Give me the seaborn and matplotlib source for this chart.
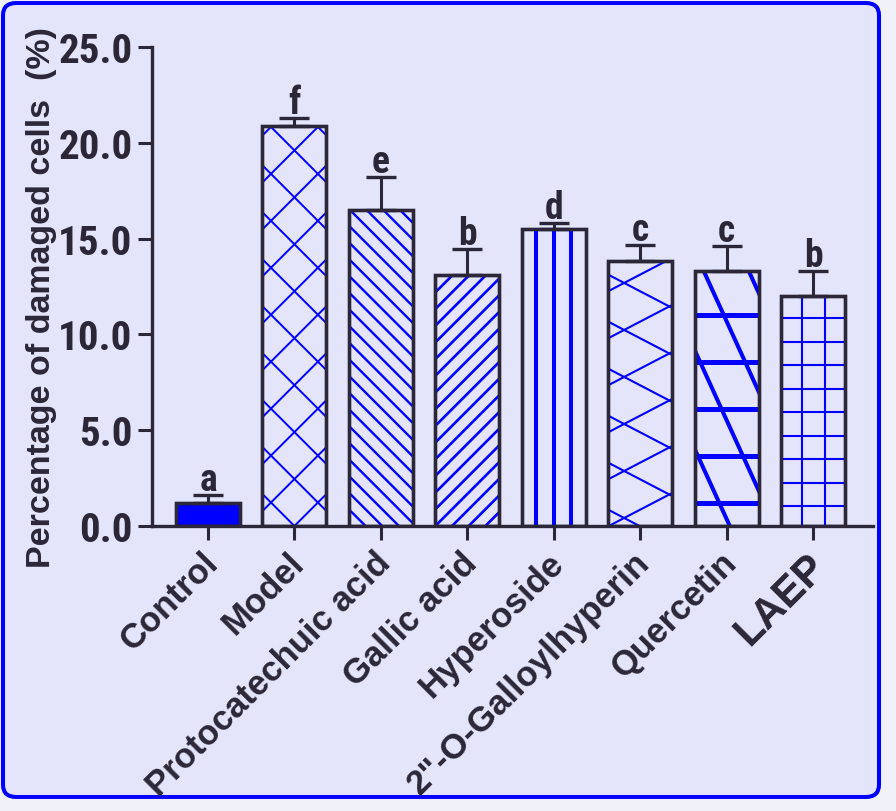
import numpy as np
import pandas as pd
import matplotlib
matplotlib.use("Agg")
import matplotlib.pyplot as plt
import seaborn as sns
from matplotlib import font_manager as fm
from matplotlib.patches import Rectangle, FancyBboxPatch
from matplotlib.transforms import ScaledTranslation

# Data
groups = ["Control", "Model", "Protocatechuic acid", "Gallic acid", "Hyperoside",
          '2"-O-Galloylhyperin', "Quercetin", "LAEP"]
means = [1.2, 20.9, 16.5, 13.1, 15.5, 13.85, 13.3, 12.0]
errors = [0.4, 0.4, 1.7, 1.35, 0.3, 0.8, 1.3, 1.3]
letters = ["a", "f", "e", "b", "d", "c", "c", "b"]
y_ticks = [0, 5, 10, 15, 20, 25]

BLUE = "#0000ff"
DARK = "#2b2738"
BG = "#e4e4fa"
OUTER = "#f1f1f9"

sns.set_theme(style="ticks")
plt.rcParams["font.family"] = ["Liberation Sans", "DejaVu Sans"]


def pick_narrow():
    # look for a bold condensed sans face, like the Arial Narrow of the original
    prefs = ["liberation sans narrow", "roboto condensed", "dejavu sans condensed",
             "noto sans", "open sans", "lato", "inter"]
    best = None
    for f in fm.fontManager.ttflist:
        nm = f.name.lower()
        st = str(f.stretch).lower()
        path = str(f.fname).lower()
        narrowish = ("narrow" in nm or "condensed" in nm or "condensed" in st
                     or "narrow" in path or "condensed" in path)
        if not narrowish or "mono" in nm or "extra" in st or "ultra" in st:
            continue
        if "extracondensed" in path or "ultracondensed" in path:
            continue
        w = f.weight if isinstance(f.weight, int) else fm.weight_dict.get(f.weight, 400)
        if w < 600 or f.style != "normal":
            continue
        rank = next((i for i, p in enumerate(prefs) if nm.startswith(p)), len(prefs))
        key = (rank, abs(w - 700), "semi" in st or "semi" in path)
        if best is None or key < best[0]:
            best = (key, f.fname)
    if best is None:
        return None
    return best[1]


narrow_path = pick_narrow()


def narrow_font(size):
    if narrow_path:
        return fm.FontProperties(fname=narrow_path, size=size)
    return fm.FontProperties(family="Liberation Sans", weight="bold", size=size)


# hatch families per bar: (angle deg, spacing px, lw pt, anchor frac, dx px, dy px)
hatch_specs = {
    "Model": [(45, 33.2, 1.4, 0.5, 0, 0), (-45, 33.2, 1.4, 0.5, 0, 0)],
    "Protocatechuic acid": [(-45, 11.8, 1.7, 0.0, 0, 0)],
    "Gallic acid": [(45, 11.8, 1.9, 0.0, 0, 0)],
    "Hyperoside": [(90, 17.5, 2.9, 0.5, 0, 0)],
    '2"-O-Galloylhyperin': [(27.5, 41.7, 1.5, 0.25, 0, 8), (-27.5, 41.7, 1.5, 0.25, 0, 8)],
    "Quercetin": [(0, 47, 3.6, 0.0, 0, 23), (-65.5, 41, 2.9, 0.55, 0, 0)],
    "LAEP": [(90, 23, 1.5, 0.5, 11.5, 0), (0, 23.5, 1.5, 0.0, 0, 20)],
}

df = pd.DataFrame({"group": groups, "mean": means, "err": errors})

fig = plt.figure(figsize=(8.96, 8.12), dpi=100, facecolor=OUTER)
frame = FancyBboxPatch((3 / 896, 14 / 812), 876 / 896, 794 / 812,
                       boxstyle="round,pad=0,rounding_size=0.015",
                       transform=fig.transFigure, facecolor=BG, edgecolor=BLUE,
                       linewidth=2.9, zorder=-5)
fig.patches.append(frame)

ax = fig.add_axes([152 / 896, 285 / 812, 721 / 896, 479 / 812])
ax.patch.set_visible(False)

fills = [BLUE] + [BG] * (len(groups) - 1)
sns.barplot(data=df, x="group", y="mean", hue="group", palette=fills, width=0.74,
            edgecolor=DARK, linewidth=2.4, errorbar=None, legend=False,
            saturation=1, ax=ax)

ax.set_xlim(-0.648, 7.694)
ax.set_ylim(0, 25)

bars = list(ax.patches)


def hatch_bar(patch, families):
    bb = patch.get_window_extent()
    x0, y0, x1, y1 = bb.x0, bb.y0, bb.x1, bb.y1
    diag = np.hypot(x1 - x0, y1 - y0)
    inv = ax.transData.inverted()
    corners = np.array([[x0, y0], [x1, y0], [x0, y1], [x1, y1]])
    for ang, sp, lw, frac, dx, dy in families:
        t = np.radians(ang)
        d = np.array([np.cos(t), np.sin(t)])
        n = np.array([-np.sin(t), np.cos(t)])
        anchor = np.array([x0 + frac * (x1 - x0) + dx, y0 + dy])
        proj = (corners - anchor) @ n
        k0 = int(np.floor(proj.min() / sp)) - 1
        k1 = int(np.ceil(proj.max() / sp)) + 1
        for k in range(k0, k1 + 1):
            c = anchor + k * sp * n
            dp = inv.transform(np.array([c - diag * d, c + diag * d]))
            line, = ax.plot(dp[:, 0], dp[:, 1], color=BLUE, lw=lw,
                            solid_capstyle="butt", zorder=2)
            line.set_clip_path(patch)


for name, p in zip(groups, bars):
    if name in hatch_specs:
        hatch_bar(p, hatch_specs[name])
    ax.add_patch(Rectangle((p.get_x(), p.get_y()), p.get_width(), p.get_height(),
                           fill=False, edgecolor=DARK, linewidth=2.4, zorder=3))

x = np.arange(len(groups))
ax.errorbar(x, means, yerr=[np.zeros(len(errors)), errors], fmt="none",
            ecolor=DARK, elinewidth=2.2, capsize=11, capthick=2.4, zorder=4)

for xi, m, e, lab in zip(x, means, errors, letters):
    ax.annotate(lab, (xi, m + e), xytext=(0, 3.6), textcoords="offset points",
                ha="center", va="baseline", fontproperties=narrow_font(27),
                color=DARK)

# axes styling
for side in ["top", "right"]:
    ax.spines[side].set_visible(False)
for side in ["left", "bottom"]:
    ax.spines[side].set_linewidth(2.4)
    ax.spines[side].set_color(DARK)

ax.set_yticks(y_ticks)
ax.set_yticklabels([f"{v:.1f}" for v in y_ticks], fontproperties=narrow_font(29.5),
                   color=DARK)
ax.tick_params(axis="y", length=10, width=2.2, color=DARK, pad=4)
ax.tick_params(axis="x", length=10, width=2.2, color=DARK, pad=4)

ax.set_xticks(x)
ax.set_xticklabels(groups, rotation=45, ha="right", va="top",
                   rotation_mode="anchor", fontweight="bold", fontsize=25,
                   color=DARK)
shift = ScaledTranslation(-7 / 100, 0, fig.dpi_scale_trans)
for lbl in ax.get_xticklabels():
    lbl.set_transform(lbl.get_transform() + shift)
    if lbl.get_text() == "LAEP":
        lbl.set_fontsize(30)

ax.set_xlabel("")
ax.set_ylabel("Percentage of damaged cells  (%)", fontsize=24.5,
              fontweight="bold", color=DARK)
ax.yaxis.label.set_va("center")
ax.yaxis.set_label_coords(-0.153, 0.48)

fig.savefig("out.png", dpi=100, facecolor=fig.get_facecolor())
